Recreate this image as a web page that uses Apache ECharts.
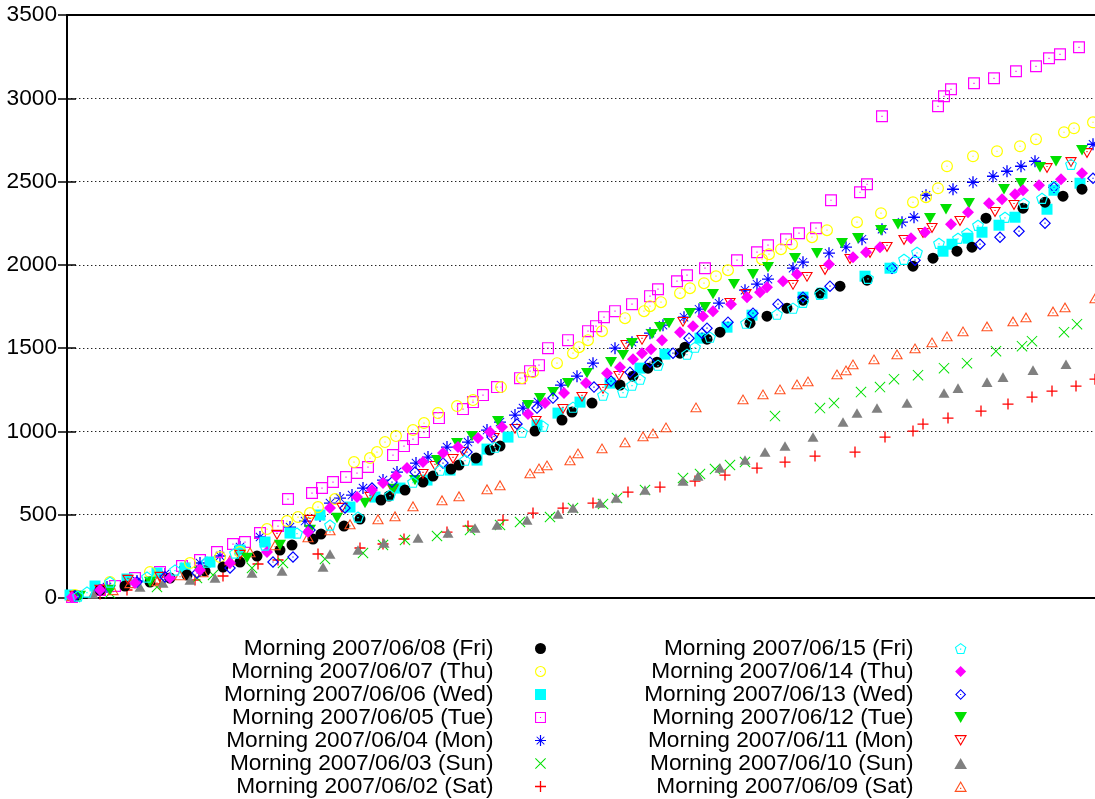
<!DOCTYPE html>
<html><head><meta charset="utf-8">
<script src="https://cdn.jsdelivr.net/npm/echarts@6/dist/echarts.min.js"></script>
<style>html,body{margin:0;padding:0;background:#fff}#c{width:1095px;height:799px}</style>
</head><body><div id="c"></div>
<script>
// ---- data (x: elapsed time index, y: cumulative count) ----
const yTicks = [0, 500, 1000, 1500, 2000, 2500, 3000, 3500];

const sat02 = [[8,6],[33,24],[60,48],[93,84],[128,108],[156,132],[191,204],[211,228],[251,264],[293,300],[316,324],[337,354],[380,396],[401,432],[436,468],[466,510],[496,540],[526,570],[561,636],[593,666],[628,702],[658,738],[690,780],[718,816],[748,852],[788,876],[818,966],[846,1002],[856,1044],[881,1080],[914,1122],[941,1164],[965,1206],[985,1242],[1009,1272],[1028,1314]];
const sun03 = [[8,6],[43,30],[90,66],[130,120],[146,138],[185,180],[216,210],[258,234],[296,270],[316,318],[338,348],[370,372],[403,408],[433,438],[453,456],[483,486],[506,540],[536,564],[550,600],[578,648],[616,720],[633,744],[648,774],[663,798],[678,816],[708,1092],[753,1140],[767,1170],[794,1236],[813,1266],[827,1314],[851,1338],[877,1380],[900,1410],[929,1482],[955,1512],[965,1542],[997,1596],[1010,1644]];
const mon04 = [[5,12],[40,66],[70,102],[98,144],[118,186],[133,210],[153,252],[173,306],[193,366],[223,426],[238,462],[253,492],[263,570],[273,600],[285,618],[296,660],[316,708],[330,756],[349,810],[361,846],[380,906],[401,936],[420,1008],[433,1056],[448,1098],[456,1140],[471,1176],[494,1278],[510,1332],[526,1410],[548,1500],[565,1536],[583,1590],[596,1638],[617,1686],[632,1734],[652,1770],[678,1848],[690,1884],[701,1914],[726,1980],[736,2016],[762,2070],[779,2106],[795,2154],[815,2214],[835,2256],[847,2286],[859,2418],[886,2454],[906,2496],[926,2532],[940,2562],[954,2592],[968,2622],[1026,2724]];
const tue05 = [[5,6],[33,48],[48,72],[68,120],[93,156],[115,192],[133,228],[150,276],[166,324],[178,336],[193,390],[211,432],[221,594],[245,630],[255,660],[266,696],[279,726],[290,750],[301,786],[326,858],[337,912],[346,954],[357,996],[372,1080],[396,1134],[406,1176],[416,1218],[430,1266],[453,1320],[463,1362],[472,1398],[481,1500],[501,1548],[521,1602],[529,1632],[537,1686],[548,1722],[565,1764],[583,1812],[591,1854],[610,1902],[620,1938],[638,1980],[670,2028],[690,2076],[701,2118],[719,2154],[732,2190],[749,2220],[764,2388],[793,2436],[800,2484],[815,2892],[871,2952],[877,3012],[884,3054],[907,3090],[927,3120],[949,3162],[969,3192],[982,3240],[993,3264],[1012,3306]];
const wed06 = [[3,18],[28,72],[60,114],[90,150],[118,180],[143,216],[173,288],[198,336],[223,390],[253,498],[283,546],[308,606],[333,660],[360,708],[383,768],[410,828],[420,894],[441,966],[470,1038],[491,1110],[513,1176],[543,1290],[573,1380],[598,1464],[633,1560],[660,1626],[685,1698],[736,1806],[755,1830],[798,1932],[823,1980],[876,2082],[885,2124],[901,2160],[915,2196],[932,2238],[948,2286],[980,2334],[987,2448],[1013,2490]];
const thu07 = [[8,18],[43,96],[83,156],[123,210],[153,246],[173,276],[200,414],[220,462],[231,486],[243,510],[251,546],[268,594],[287,816],[303,840],[310,876],[318,936],[329,972],[346,1008],[357,1050],[371,1110],[390,1152],[406,1188],[434,1266],[455,1320],[466,1356],[490,1410],[506,1470],[512,1506],[521,1548],[535,1602],[558,1680],[577,1722],[583,1752],[594,1776],[613,1830],[623,1860],[637,1890],[649,1932],[661,1968],[695,2034],[702,2064],[714,2094],[725,2124],[745,2166],[760,2208],[790,2256],[814,2310],[846,2376],[859,2406],[871,2460],[880,2592],[906,2652],[930,2682],[953,2712],[969,2754],[997,2796],[1007,2820],[1026,2856]];
const fri08 = [[8,12],[33,48],[58,72],[83,96],[103,120],[120,138],[138,162],[156,186],[173,216],[190,252],[213,288],[225,318],[246,354],[254,384],[277,432],[293,474],[314,588],[322,612],[338,648],[356,696],[366,732],[384,774],[392,798],[409,840],[423,888],[433,912],[468,1002],[495,1068],[505,1116],[525,1170],[553,1278],[566,1332],[581,1380],[590,1416],[613,1470],[618,1506],[640,1554],[653,1596],[683,1650],[700,1692],[720,1740],[736,1788],[753,1830],[773,1872],[800,1908],[846,1992],[866,2040],[890,2082],[905,2106],[919,2280],[956,2340],[978,2376],[996,2412],[1015,2454]];
const sat09 = [[5,12],[46,48],[63,90],[90,102],[113,138],[136,156],[163,228],[183,276],[208,318],[241,366],[263,408],[283,444],[311,474],[328,492],[346,552],[375,588],[392,612],[420,654],[433,678],[463,750],[472,780],[480,798],[503,828],[511,870],[535,900],[558,936],[576,972],[586,990],[599,1026],[629,1146],[676,1194],[696,1224],[713,1254],[730,1284],[741,1302],[770,1344],[779,1368],[786,1404],[807,1434],[830,1464],[848,1500],[865,1536],[880,1572],[896,1602],[920,1632],[946,1662],[959,1686],[986,1722],[998,1746],[1028,1800]];
const sun10 = [[26,24],[73,66],[96,90],[123,108],[148,120],[185,150],[215,162],[256,186],[263,264],[291,288],[317,330],[351,360],[381,390],[408,420],[430,438],[460,468],[491,504],[506,540],[533,570],[549,600],[578,648],[616,702],[631,732],[653,780],[678,828],[698,876],[718,912],[746,966],[776,1056],[790,1110],[810,1140],[840,1170],[877,1230],[891,1260],[920,1296],[936,1326],[966,1368],[999,1404]];
const mon11 = [[8,12],[33,48],[61,108],[93,126],[133,156],[173,258],[210,378],[243,468],[275,540],[303,606],[326,648],[356,744],[368,792],[386,834],[396,876],[427,960],[448,1014],[469,1062],[496,1134],[515,1206],[536,1254],[552,1332],[559,1518],[575,1548],[616,1656],[663,1770],[679,1824],[726,1878],[740,1926],[758,1968],[783,2034],[803,2070],[820,2106],[837,2148],[856,2190],[865,2220],[893,2262],[928,2316],[947,2358],[980,2580],[1004,2616],[1020,2670]];
const tue12 = [[13,12],[43,48],[83,96],[133,156],[180,240],[213,318],[243,408],[270,480],[298,570],[326,654],[348,708],[370,828],[390,930],[405,972],[431,1062],[461,1158],[473,1200],[486,1236],[501,1290],[520,1350],[544,1416],[556,1458],[565,1530],[585,1584],[593,1626],[602,1650],[623,1710],[638,1746],[646,1824],[667,1884],[686,1944],[701,1986],[728,2040],[750,2070],[775,2130],[791,2160],[814,2208],[831,2244],[863,2280],[879,2334],[902,2370],[937,2454],[954,2490],[973,2586],[989,2622],[1015,2688]];
const wed13 = [[8,12],[33,48],[70,96],[98,126],[130,150],[163,180],[206,216],[226,246],[243,408],[278,540],[305,660],[325,696],[348,756],[376,810],[400,876],[425,966],[450,1044],[470,1140],[486,1200],[527,1266],[544,1302],[563,1356],[583,1416],[606,1470],[622,1560],[635,1590],[640,1620],[661,1656],[686,1710],[711,1764],[736,1806],[763,1872],[825,1980],[848,2028],[913,2124],[933,2166],[952,2202],[978,2250],[987,2466],[1026,2520]];
const thu14 = [[5,6],[33,48],[68,90],[103,120],[133,168],[163,210],[200,276],[241,396],[263,540],[290,606],[305,648],[316,690],[329,732],[340,780],[356,816],[376,870],[391,906],[411,960],[423,996],[435,1026],[461,1104],[478,1170],[497,1230],[519,1290],[540,1350],[553,1386],[566,1434],[575,1470],[584,1494],[595,1548],[613,1596],[626,1632],[636,1692],[646,1722],[664,1764],[680,1806],[693,1836],[700,1866],[716,1902],[730,1944],[762,2004],[786,2046],[799,2076],[813,2106],[844,2160],[858,2196],[884,2244],[901,2316],[922,2370],[935,2394],[948,2424],[956,2448],[972,2478],[994,2514],[1015,2550]];
const fri15 = [[11,12],[20,36],[43,96],[80,126],[108,168],[140,216],[168,270],[198,318],[230,390],[263,438],[291,486],[323,618],[346,696],[373,768],[398,828],[428,906],[455,996],[476,1032],[506,1146],[536,1218],[556,1236],[565,1278],[573,1314],[591,1398],[620,1464],[628,1506],[643,1566],[679,1650],[710,1704],[726,1740],[736,1776],[753,1824],[801,1920],[826,1986],[837,2034],[850,2076],[872,2130],[891,2160],[900,2190],[911,2238],[938,2286],[957,2370],[975,2400],[987,2472],[1004,2604]];

const seriesNames = [
  'Morning 2007/06/02 (Sat)', 'Morning 2007/06/03 (Sun)', 'Morning 2007/06/04 (Mon)',
  'Morning 2007/06/05 (Tue)', 'Morning 2007/06/06 (Wed)', 'Morning 2007/06/07 (Thu)',
  'Morning 2007/06/08 (Fri)', 'Morning 2007/06/09 (Sat)', 'Morning 2007/06/10 (Sun)',
  'Morning 2007/06/11 (Mon)', 'Morning 2007/06/12 (Tue)', 'Morning 2007/06/13 (Wed)',
  'Morning 2007/06/14 (Thu)', 'Morning 2007/06/15 (Fri)'
];
const seriesData = [sat02, sun03, mon04, tue05, wed06, thu07, fri08, sat09, sun10, mon11, tue12, wed13, thu14, fri15];
const legendLeft = [6, 5, 4, 3, 2, 1, 0].map(i => seriesNames[i]);
const legendRight = [13, 12, 11, 10, 9, 8, 7].map(i => seriesNames[i]);

// ---- symbols (gnuplot point types) ----
const DOT = 'M9 9H11V11H9Z';
const SYM = {
  plus: 'path://M8.8 0H11.2V8.8H20V11.2H11.2V20H8.8V11.2H0V8.8H8.8Z',
  cross: 'path://M0 1.3L1.3 0L20 18.7L18.7 20Z M18.7 0L20 1.3L1.3 20L0 18.7Z',
  star: 'path://M8.9 0H11.1V8.9H20V11.1H11.1V20H8.9V11.1H0V8.9H8.9Z M2.5 3.6L3.6 2.5L17.5 16.4L16.4 17.5Z M16.4 2.5L17.5 3.6L3.6 17.5L2.5 16.4Z',
  openSquare: 'path://M0 0H20V20H0Z M2 2V18H18V2Z ' + DOT,
  square: 'path://M0 0H20V20H0Z',
  openCircle: 'path://M0 10A10 10 0 1 1 20 10A10 10 0 1 1 0 10Z M2 10A8 8 0 1 0 18 10A8 8 0 1 0 2 10Z ' + DOT,
  circle: 'path://M0 10A10 10 0 1 1 20 10A10 10 0 1 1 0 10Z',
  openTri: 'path://M10 0L20 17.3L0 17.3Z M10 3.6L3.12 15.51L16.88 15.51Z M9 10.55H11V12.55H9Z',
  tri: 'path://M10 0L20 17.3L0 17.3Z',
  openDown: 'path://M0 0H20L10 17.3Z M3.12 1.8L10 13.7L16.88 1.8Z M9 4.77H11V6.77H9Z',
  down: 'path://M0 0H20L10 17.3Z',
  openDiamond: 'path://M10 0L20 10L10 20L0 10Z M10 2.8L2.8 10L10 17.2L17.2 10Z ' + DOT,
  diamond: 'path://M10 0L20 10L10 20L0 10Z',
  openPent: 'path://M10 0L19.51 6.91L15.88 18.09L4.12 18.09L0.49 6.91Z M10 2.225L2.61 7.6L5.43 16.29L14.57 16.29L17.39 7.6Z ' + DOT
};
const styles = [
  { sym: SYM.plus, color: '#ff0000', size: 11 },
  { sym: SYM.cross, color: '#00e000', size: 11 },
  { sym: SYM.star, color: '#0000ff', size: 12 },
  { sym: SYM.openSquare, color: '#ff00ff', size: 12 },
  { sym: SYM.square, color: '#00ffff', size: 11 },
  { sym: SYM.openCircle, color: '#ffff00', size: 12 },
  { sym: SYM.circle, color: '#000000', size: 11 },
  { sym: SYM.openTri, color: '#ff5020', size: 12 },
  { sym: SYM.tri, color: '#808080', size: 11 },
  { sym: SYM.openDown, color: '#ff0000', size: 12 },
  { sym: SYM.down, color: '#00e000', size: 12 },
  { sym: SYM.openDiamond, color: '#0000ff', size: 12 },
  { sym: SYM.diamond, color: '#ff00ff', size: 12 },
  { sym: SYM.openPent, color: '#00ffff', size: 12 }
];

const FONT = "'Liberation Sans', Arial, sans-serif";
const chart = echarts.init(document.getElementById('c'), null, { renderer: 'canvas' });

const legendCommon = {
  orient: 'vertical', align: 'right', padding: 0, top: 637, height: 190,
  itemWidth: 84, itemHeight: 11, itemGap: 0, symbolKeepAspect: true,
  selectedMode: false,
  textStyle: { fontFamily: FONT, fontSize: 22.7, color: '#000', lineHeight: 22.8 }
};

chart.setOption({
  animation: false,
  backgroundColor: '#fff',
  grid: { left: 67, right: 0, top: 15, bottom: 201, containLabel: false },
  xAxis: [
    { type: 'value', min: 0, max: 1028, position: 'bottom',
      axisLine: { show: true, onZero: false, lineStyle: { color: '#000', width: 2 } },
      axisTick: { show: false }, axisLabel: { show: false }, splitLine: { show: false } },
    { type: 'value', min: 0, max: 1028, position: 'top',
      axisLine: { show: true, onZero: false, lineStyle: { color: '#000', width: 2 } },
      axisTick: { show: false }, axisLabel: { show: false }, splitLine: { show: false } }
  ],
  yAxis: [
    { type: 'value', min: yTicks[0], max: yTicks[yTicks.length - 1], interval: 500, position: 'left',
      axisLine: { show: true, onZero: false, lineStyle: { color: '#000', width: 2 } },
      axisTick: { show: true, inside: true, length: 9, lineStyle: { color: '#000', width: 1.5 } },
      axisLabel: { show: true, margin: 10, color: '#000', fontFamily: FONT, fontSize: 22.7,
                   formatter: v => String(v) },
      splitLine: { show: true, lineStyle: { color: '#222', width: 1, type: [1.4, 2.6] } } },
    { type: 'value', min: yTicks[0], max: yTicks[yTicks.length - 1], interval: 500, position: 'right',
      axisLine: { show: false },
      axisTick: { show: true, inside: true, length: 9, lineStyle: { color: '#000', width: 1.5 } },
      axisLabel: { show: false }, splitLine: { show: false } }
  ],
  legend: [
    Object.assign({}, legendCommon, { right: 549, data: legendLeft }),
    Object.assign({}, legendCommon, { right: 128, data: legendRight })
  ],
  series: seriesData.map((d, i) => ({
    type: 'scatter', name: seriesNames[i], data: d,
    xAxisIndex: 0, yAxisIndex: 0,
    symbol: styles[i].sym, symbolSize: styles[i].size, symbolKeepAspect: true,
    itemStyle: { color: styles[i].color, opacity: 1 },
    emphasis: { disabled: true }
  }))
});
</script>
</body></html>
